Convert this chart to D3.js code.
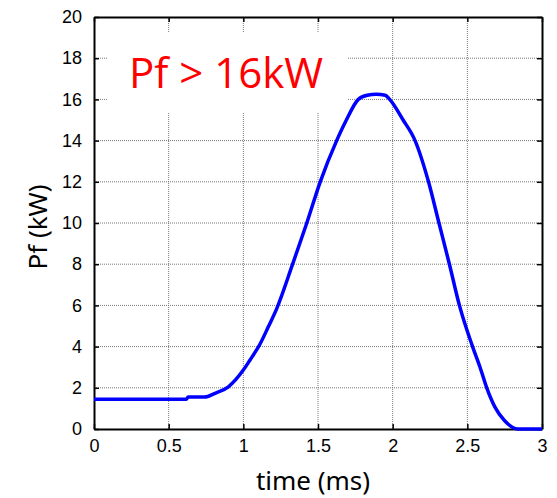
<!DOCTYPE html>
<html>
<head>
<meta charset="utf-8">
<script src="https://cdn.jsdelivr.net/npm/d3@7"></script>
<style>
  body { margin: 0; background: #fff; }
  svg { display: block; }
</style>
</head>
<body>
<div class="chart"></div>
<script>
(function() {

// data
  var timeMs = [0, 0.62, 0.63, 0.74, 0.81, 0.9, 1.0, 1.045, 1.11, 1.168, 1.22, 1.33, 1.425, 1.515,
    1.625, 1.69, 1.77, 1.83, 1.89, 1.95, 1.98, 2.07, 2.15, 2.24, 2.31, 2.38, 2.447,
    2.535, 2.585, 2.63, 2.686, 2.75, 2.84, 3.0];
  var pfKW = [1.45, 1.45, 1.55, 1.55, 1.73, 2.05, 2.86, 3.35, 4.1, 4.97, 5.78, 8, 10, 12,
    14, 15, 16, 16.2, 16.25, 16.2, 16, 15, 14, 12, 10, 8, 6,
    4, 3, 2, 1.05, 0.4, 0, 0];
  var xTicks = [0, 0.5, 1, 1.5, 2, 2.5, 3];
  var yTicks = [0, 2, 4, 6, 8, 10, 12, 14, 16, 18, 20];
  var note = 'Pf > 16kW';

  var W = 557, H = 498;
  var margin = {top: 17, right: 15, bottom: 69, left: 94};
  var w = W - margin.left - margin.right,
      h = H - margin.top - margin.bottom;

  var svg = d3.select('.chart')
    .append('svg')
    .attr('width', W)
    .attr('height', H);

  var g = svg.append('g')
    .attr('transform', 'translate(' + margin.left + ',' + margin.top + ')');

  var x = d3.scaleLinear().domain([0, 3]).range([0, w]);
  var y = d3.scaleLinear().domain([0, 20]).range([h, 0]);

// grid
  g.selectAll('.vgrid').data(xTicks.slice(1, -1)).enter()
    .append('line')
    .attr('x1', function(d){ return x(d); })
    .attr('x2', function(d){ return x(d); })
    .attr('y1', 0).attr('y2', h)
    .attr('stroke', '#777')
    .attr('stroke-dasharray', '1,1');

  g.selectAll('.hgrid').data(yTicks.slice(1, -1)).enter()
    .append('line')
    .attr('x1', 0).attr('x2', w)
    .attr('y1', function(d){ return y(d); })
    .attr('y2', function(d){ return y(d); })
    .attr('stroke', '#777')
    .attr('stroke-dasharray', '1,1');

// white box behind the note
  g.append('rect')
    .attr('x', 13).attr('y', 16)
    .attr('width', 241).attr('height', 79)
    .attr('fill', '#fff');

  g.append('text')
    .attr('x', 35).attr('y', 71)
    .attr('fill', 'red')
    .style('font-family', '"Open Sans", "Noto Sans", sans-serif')
    .style('font-size', '42px')
    .text(note);

// axes with inward ticks on all sides
  var font = '"Liberation Sans", Arial, sans-serif';
  var axB = d3.axisBottom(x).tickValues(xTicks).tickSizeInner(-5).tickSizeOuter(0)
    .tickPadding(10).tickFormat(d3.format('~g'));
  var axT = d3.axisTop(x).tickValues(xTicks).tickSizeInner(-5).tickSizeOuter(0).tickFormat('');
  var axL = d3.axisLeft(y).tickValues(yTicks).tickSizeInner(-5).tickSizeOuter(0).tickPadding(12);
  var axR = d3.axisRight(y).tickValues(yTicks).tickSizeInner(-5).tickSizeOuter(0).tickFormat('');

  var gB = g.append('g').attr('transform', 'translate(0,' + h + ')').call(axB);
  var gT = g.append('g').call(axT);
  var gL = g.append('g').call(axL);
  var gR = g.append('g').attr('transform', 'translate(' + w + ',0)').call(axR);

  [gB, gT, gL, gR].forEach(function(a) {
    a.select('.domain').attr('stroke', '#000').attr('stroke-width', 2);
    a.selectAll('.tick line').attr('stroke', '#000').attr('stroke-width', 1.5);
    a.selectAll('text').attr('fill', '#000')
      .style('font-family', font).style('font-size', '18px');
  });

// curve
  var line = d3.line()
    .x(function(d, i){ return x(timeMs[i]); })
    .y(function(d){ return y(d); })
    .curve(d3.curveMonotoneX);

  g.append('path')
    .datum(pfKW)
    .attr('d', line)
    .attr('fill', 'none')
    .attr('stroke', '#0000ff')
    .attr('stroke-width', 3.5);

// axis titles
  svg.append('text')
    .attr('x', margin.left + w / 2 - 5).attr('y', 490)
    .attr('text-anchor', 'middle')
    .style('font-family', '"Noto Sans", sans-serif')
    .style('font-size', '26px')
    .text('time (ms)');

  svg.append('text')
    .attr('transform', 'translate(47,227) rotate(-90)')
    .attr('text-anchor', 'middle')
    .style('font-family', '"Noto Sans", sans-serif')
    .style('font-size', '26px')
    .text('Pf (kW)');

})();
</script>
</body>
</html>
